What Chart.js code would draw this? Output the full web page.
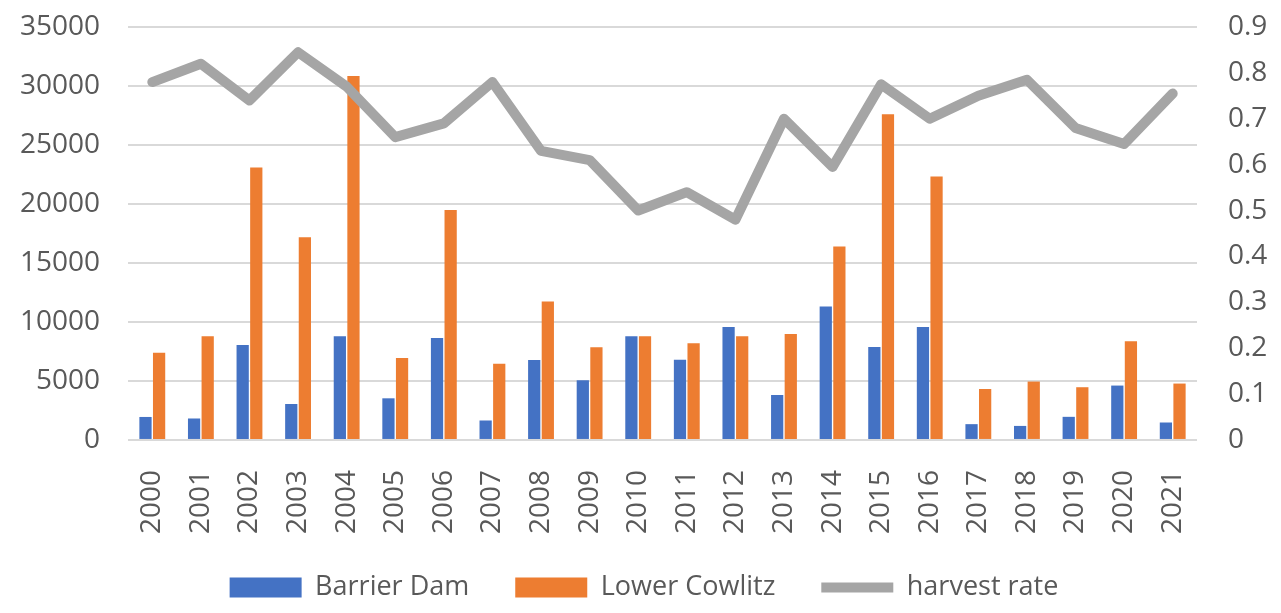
<!DOCTYPE html>
<html>
<head>
<meta charset="utf-8">
<script src="https://cdn.jsdelivr.net/npm/chart.js@4"></script>
<style>
  html, body { margin: 0; padding: 0; background: #fff; }
  #wrap { width: 1281px; height: 613px; }
</style>
</head>
<body>
<div id="wrap"><canvas id="harvestChart"></canvas></div>
<script>
const years = ['2000', '2001', '2002', '2003', '2004', '2005', '2006', '2007', '2008', '2009', '2010',
  '2011', '2012', '2013', '2014', '2015', '2016', '2017', '2018', '2019', '2020', '2021'];

const barrierDam = [1950, 1820, 8050, 3050, 8800, 3530, 8650, 1650, 6770, 5060, 8800,
  6800, 9580, 3810, 11320, 7880, 9580, 1340, 1190, 1960, 4610, 1480];

const lowerCowlitz = [7400, 8800, 23100, 17180, 30850, 6940, 19500, 6460, 11740, 7850, 8800,
  8190, 8800, 8990, 16400, 27610, 22320, 4320, 4950, 4470, 8360, 4780];

const harvestRate = [0.78, 0.82, 0.74, 0.845, 0.77, 0.66, 0.69, 0.78, 0.63, 0.61, 0.50,
  0.54, 0.48, 0.70, 0.595, 0.775, 0.70, 0.75, 0.785, 0.68, 0.645, 0.755];

const axisFont = { family: 'Open Sans', size: 28 };
const textColor = '#595959';

// lift the legend a bit closer to the axis labels without touching the plot area
const legendLift = {
  id: 'legendLift',
  afterLayout(chart) {
    const lg = chart.legend;
    if (lg) {
      lg.top -= 28;
      lg.bottom -= 28;
    }
  }
};

// tick padding also gets added above the top label, so set the room by hand
const fixVertical = (width) => (s) => {
  s.width = width;
  s.paddingTop = 27;
};

const ctx = document.getElementById('harvestChart');

new Chart(ctx, {
  type: 'bar',
  data: {
    labels: years,
    datasets: [{
      label: 'Barrier Dam',
      data: barrierDam,
      backgroundColor: '#4472C4',
      borderWidth: 0,
      pointStyle: 'rect',
      yAxisID: 'y',
      order: 2,
      barPercentage: 0.9,
      categoryPercentage: 0.56
    }, {
      label: 'Lower Cowlitz',
      data: lowerCowlitz,
      backgroundColor: '#ED7D31',
      borderWidth: 0,
      pointStyle: 'rect',
      yAxisID: 'y',
      order: 2,
      barPercentage: 0.9,
      categoryPercentage: 0.56
    }, {
      type: 'line',
      label: 'harvest rate',
      data: harvestRate,
      borderColor: '#A5A5A5',
      backgroundColor: '#A5A5A5',
      borderWidth: 10,
      borderCapStyle: 'round',
      borderJoinStyle: 'round',
      pointRadius: 0,
      pointStyle: 'line',
      tension: 0,
      yAxisID: 'y1',
      order: 1
    }]
  },
  plugins: [legendLift],
  options: {
    responsive: true,
    maintainAspectRatio: false,
    animation: false,
    layout: {
      padding: { top: 0, left: 20, right: 13, bottom: -26 }
    },
    plugins: {
      tooltip: { enabled: false },
      legend: {
        position: 'bottom',
        labels: {
          usePointStyle: true,
          pointStyleWidth: 72,
          boxHeight: 20,
          padding: 46,
          color: textColor,
          font: { family: 'Open Sans', size: 27 },
          sort: (a, b) => a.datasetIndex - b.datasetIndex
        }
      }
    },
    scales: {
      x: {
        grid: { display: false },
        border: { display: false },
        ticks: {
          color: textColor,
          font: axisFont,
          minRotation: 90,
          maxRotation: 90,
          padding: 22,
          autoSkip: false
        }
      },
      y: {
        position: 'left',
        min: 0,
        max: 35000,
        afterFit: fixVertical(108),
        grid: { color: '#D9D9D9', lineWidth: 2, drawTicks: false },
        border: { display: false },
        ticks: {
          stepSize: 5000,
          color: textColor,
          font: axisFont,
          padding: 28,
          callback: (v) => String(v)
        }
      },
      y1: {
        position: 'right',
        min: 0,
        max: 0.9,
        afterFit: fixVertical(71),
        grid: { display: false, drawTicks: false },
        border: { display: false },
        ticks: {
          stepSize: 0.1,
          color: textColor,
          font: axisFont,
          padding: 31,
          callback: (v) => String(Math.round(v * 10) / 10)
        }
      }
    }
  }
});
</script>
</body>
</html>
